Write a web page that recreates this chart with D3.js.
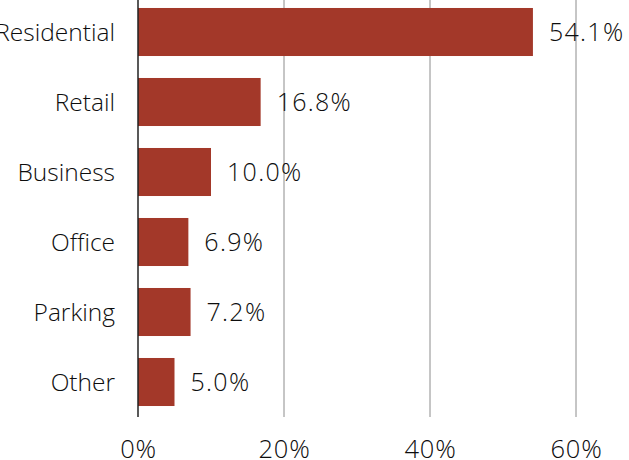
<!DOCTYPE html>
<html>
<head>
<meta charset="utf-8">
<script src="https://cdn.jsdelivr.net/npm/d3@7"></script>
<style>
  html, body { margin: 0; padding: 0; background: #fff; }
  svg { display: block; font-family: "Open Sans", "Noto Sans", sans-serif; font-weight: 350; }
</style>
</head>
<body>
<svg id="chart" width="629" height="460"></svg>
<script>
// Share of floor area by use
const categories = ["Residential", "Retail", "Business", "Office", "Parking", "Other"];
const shares = [54.1, 16.8, 10.0, 6.9, 7.2, 5.0];
const tickValues = [0, 20, 40, 60];

const svg = d3.select("#chart");
const barColor = "#a33829";
const textColor = "#0d0d0d";

const x = d3.scaleLinear().domain([0, 60]).range([138, 576]);
const y = d3.scaleBand().domain(categories).range([-3, 417]).paddingInner(0.314).paddingOuter(0.157);

// vertical gridlines
svg.append("g").selectAll("line")
  .data(tickValues.filter(d => d > 0))
  .join("line")
  .attr("x1", d => x(d)).attr("x2", d => x(d))
  .attr("y1", -3).attr("y2", 417)
  .attr("stroke", "#8c8c8c").attr("stroke-width", 1);

// bars
svg.append("g").selectAll("rect")
  .data(categories)
  .join("rect")
  .attr("x", x(0))
  .attr("y", d => y(d))
  .attr("width", (d, i) => x(shares[i]) - x(0))
  .attr("height", y.bandwidth())
  .attr("fill", barColor);

// zero baseline
svg.append("line")
  .attr("x1", x(0)).attr("x2", x(0))
  .attr("y1", -3).attr("y2", 417)
  .attr("stroke", "#222").attr("stroke-width", 1.5);

// value labels
svg.append("g").selectAll("text")
  .data(categories)
  .join("text")
  .attr("x", (d, i) => x(shares[i]) + 16)
  .attr("y", d => y(d) + y.bandwidth() / 2)
  .attr("dy", "0.36em")
  .attr("font-size", 25)
  .attr("letter-spacing", 1.3)
  .attr("fill", textColor)
  .text((d, i) => shares[i].toFixed(1) + "%");

// category labels
svg.append("g").selectAll("text")
  .data(categories)
  .join("text")
  .attr("x", 115)
  .attr("y", d => y(d) + y.bandwidth() / 2)
  .attr("dy", "0.36em")
  .attr("text-anchor", "end")
  .attr("font-size", 24.5)
  .attr("fill", textColor)
  .text(d => d);

// x axis tick labels
const axis = d3.axisBottom(x).tickValues(tickValues).tickSize(0).tickPadding(0)
  .tickFormat(d => d + "%");
const gx = svg.append("g").attr("transform", "translate(0,458)").call(axis);
gx.select(".domain").remove();
gx.selectAll("text")
  .attr("font-size", 25.5)
  .attr("letter-spacing", 0.8)
  .attr("font-family", "\"Open Sans\", \"Noto Sans\", sans-serif")
  .attr("font-weight", 350)
  .attr("fill", textColor)
  .attr("dy", 0);
</script>
</body>
</html>
